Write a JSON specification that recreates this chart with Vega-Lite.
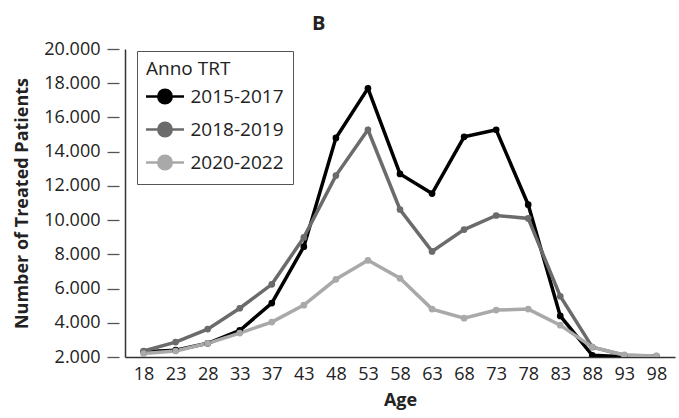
{
  "$schema": "https://vega.github.io/schema/vega-lite/v6.json",
  "width": 550,
  "height": 308,
  "autosize": {"type": "none"},
  "padding": {"left": 125, "top": 49, "right": 4, "bottom": 61},
  "config": {
    "font": "Open Sans",
    "view": {"stroke": null},
    "axis": {"grid": false, "labelColor": "#222", "titleColor": "#222"}
  },
  "title": {
    "text": "B",
    "anchor": "start",
    "frame": "group",
    "dx": 187,
    "offset": 6,
    "fontSize": 20,
    "fontWeight": "bold",
    "color": "#222"
  },
  "data": {
    "values": [
      {"Age": 18, "Period": "2015-2017", "Patients": 2300},
      {"Age": 23, "Period": "2015-2017", "Patients": 2400},
      {"Age": 28, "Period": "2015-2017", "Patients": 2800},
      {"Age": 33, "Period": "2015-2017", "Patients": 3550},
      {"Age": 37, "Period": "2015-2017", "Patients": 5150},
      {"Age": 43, "Period": "2015-2017", "Patients": 8450},
      {"Age": 48, "Period": "2015-2017", "Patients": 14800},
      {"Age": 53, "Period": "2015-2017", "Patients": 17700},
      {"Age": 58, "Period": "2015-2017", "Patients": 12700},
      {"Age": 63, "Period": "2015-2017", "Patients": 11550},
      {"Age": 68, "Period": "2015-2017", "Patients": 14870},
      {"Age": 73, "Period": "2015-2017", "Patients": 15280},
      {"Age": 78, "Period": "2015-2017", "Patients": 10900},
      {"Age": 83, "Period": "2015-2017", "Patients": 4400},
      {"Age": 88, "Period": "2015-2017", "Patients": 2100},
      {"Age": 93, "Period": "2015-2017", "Patients": 2010},
      {"Age": 98, "Period": "2015-2017", "Patients": 2010},
      {"Age": 18, "Period": "2018-2019", "Patients": 2350},
      {"Age": 23, "Period": "2018-2019", "Patients": 2870},
      {"Age": 28, "Period": "2018-2019", "Patients": 3630},
      {"Age": 33, "Period": "2018-2019", "Patients": 4850},
      {"Age": 37, "Period": "2018-2019", "Patients": 6250},
      {"Age": 43, "Period": "2018-2019", "Patients": 8990},
      {"Age": 48, "Period": "2018-2019", "Patients": 12600},
      {"Age": 53, "Period": "2018-2019", "Patients": 15280},
      {"Age": 58, "Period": "2018-2019", "Patients": 10620},
      {"Age": 63, "Period": "2018-2019", "Patients": 8170},
      {"Age": 68, "Period": "2018-2019", "Patients": 9450},
      {"Age": 73, "Period": "2018-2019", "Patients": 10270},
      {"Age": 78, "Period": "2018-2019", "Patients": 10100},
      {"Age": 83, "Period": "2018-2019", "Patients": 5550},
      {"Age": 88, "Period": "2018-2019", "Patients": 2580},
      {"Age": 93, "Period": "2018-2019", "Patients": 2100},
      {"Age": 98, "Period": "2018-2019", "Patients": 2050},
      {"Age": 18, "Period": "2020-2022", "Patients": 2200},
      {"Age": 23, "Period": "2020-2022", "Patients": 2350},
      {"Age": 28, "Period": "2020-2022", "Patients": 2800},
      {"Age": 33, "Period": "2020-2022", "Patients": 3400},
      {"Age": 37, "Period": "2020-2022", "Patients": 4040},
      {"Age": 43, "Period": "2020-2022", "Patients": 5030},
      {"Age": 48, "Period": "2020-2022", "Patients": 6540},
      {"Age": 53, "Period": "2020-2022", "Patients": 7650},
      {"Age": 58, "Period": "2020-2022", "Patients": 6600},
      {"Age": 63, "Period": "2020-2022", "Patients": 4800},
      {"Age": 68, "Period": "2020-2022", "Patients": 4270},
      {"Age": 73, "Period": "2020-2022", "Patients": 4740},
      {"Age": 78, "Period": "2020-2022", "Patients": 4800},
      {"Age": 83, "Period": "2020-2022", "Patients": 3860},
      {"Age": 88, "Period": "2020-2022", "Patients": 2580},
      {"Age": 93, "Period": "2020-2022", "Patients": 2120},
      {"Age": 98, "Period": "2020-2022", "Patients": 2060}
    ]
  },
  "layer": [
    {
      "mark": {"type": "line", "strokeWidth": 3.5, "clip": true, "point": {"filled": true, "size": 45}},
      "encoding": {
        "x": {
          "field": "Age",
          "type": "ordinal",
          "scale": {"type": "point", "padding": 0.58},
          "axis": {
            "title": "Age",
            "titleFontSize": 18,
            "titleFontWeight": "bold",
            "titlePadding": 8,
            "labelFontSize": 18,
            "labelAngle": 0,
            "labelPadding": 8,
            "ticks": false,
            "tickSize": 0,
            "domainColor": "#333",
            "domainWidth": 1.5
          }
        },
        "y": {
          "field": "Patients",
          "type": "quantitative",
          "scale": {"domain": [2000, 20000], "nice": false, "zero": false},
          "axis": {
            "title": "Number of Treated Patients",
            "titleFontSize": 18,
            "titleFontWeight": "bold",
            "titlePadding": 12,
            "values": [2000, 4000, 6000, 8000, 10000, 12000, 14000, 16000, 18000, 20000],
            "labelExpr": "replace(format(datum.value, ','), ',', '.')",
            "labelFontSize": 18,
            "labelPadding": 7,
            "offset": 6,
            "domain": false,
            "tickSize": 12,
            "tickColor": "#555",
            "tickWidth": 1.3
          }
        },
        "color": {
          "field": "Period",
          "type": "nominal",
          "scale": {"domain": ["2015-2017", "2018-2019", "2020-2022"], "range": ["#000000", "#6b6b6b", "#a9a9a9"]},
          "legend": {
            "title": "Anno TRT",
            "orient": "none",
            "legendX": 12,
            "legendY": 2,
            "padding": 9,
            "strokeColor": "#555",
            "fillColor": "white",
            "titleFontSize": 19,
            "titleFontWeight": "normal",
            "titleColor": "#222",
            "titlePadding": 8,
            "labelFontSize": 19,
            "labelColor": "#222",
            "labelOffset": 16,
            "rowPadding": 8,
            "symbolType": "M-2.69,0L2.69,0M0.95,0A0.95,0.95,0,1,1,-0.95,0A0.95,0.95,0,1,1,0.95,0Z",
            "symbolSize": 200,
            "symbolStrokeWidth": 2.5,
            "symbolOffset": 9.5,
            "encode": {
              "symbols": {
                "update": {
                  "fill": {"scale": "color", "field": "value"},
                  "stroke": {"scale": "color", "field": "value"},
                  "opacity": {"value": 1}
                }
              }
            }
          }
        }
      }
    },
    {
      "mark": {"type": "point", "opacity": 0},
      "encoding": {
        "x": {"field": "Age", "type": "ordinal"},
        "y": {
          "field": "Patients",
          "type": "quantitative",
          "axis": {
            "orient": "left",
            "offset": 0,
            "ticks": false,
            "labels": false,
            "title": null,
            "domain": true,
            "domainColor": "#333",
            "domainWidth": 1.5
          }
        }
      }
    }
  ],
  "resolve": {"axis": {"y": "independent"}}
}
